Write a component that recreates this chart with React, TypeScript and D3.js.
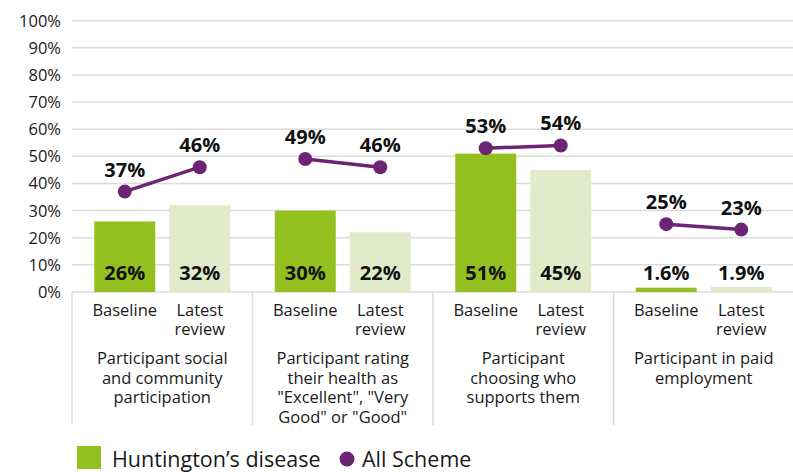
import React from "react";
import * as d3 from "d3";

const groups = [
  ["Participant social", "and community", "participation"],
  ["Participant rating", "their health as", "\"Excellent\", \"Very", "Good\" or \"Good\""],
  ["Participant", "choosing who", "supports them"],
  ["Participant in paid", "employment"],
];
const periods = ["Baseline", "Latest review"];
const periodLines = [["Baseline"], ["Latest", "review"]];
const hdValues = [
  [26, 32],
  [30, 22],
  [51, 45],
  [1.6, 1.9],
];
const hdLabels = [
  ["26%", "32%"],
  ["30%", "22%"],
  ["51%", "45%"],
  ["1.6%", "1.9%"],
];
const schemeValues = [
  [37, 46],
  [49, 46],
  [53, 54],
  [25, 23],
];
const yTicks = [0, 10, 20, 30, 40, 50, 60, 70, 80, 90, 100];

const W = 793;
const H = 472;
const FONT = "'Open Sans', Lato, sans-serif";
const GREEN = "#93c01f";
const LIGHT = "#e1ebc9";
const PURPLE = "#6c2475";
const GRID = "#dcdcdc";
const INK = "#1a1a1a";

export default function App() {
  const left = 72;
  const right = 794;
  const top = 20.7;
  const bottom = 292;
  const y = d3.scaleLinear().domain([0, 100]).range([bottom, top]);
  const x0 = d3.scaleBand<number>().domain(d3.range(groups.length)).range([left, right]).padding(0);
  const x1 = d3
    .scaleBand<number>()
    .domain(d3.range(periods.length))
    .range([0, x0.bandwidth()])
    .paddingInner(0.187)
    .paddingOuter(0.297);
  const bw = x1.bandwidth();
  const line = d3
    .line<[number, number]>()
    .x((d) => d[0])
    .y((d) => d[1]);

  return (
    <svg
      width={W}
      height={H}
      style={{ position: "absolute", left: 0, top: 0, fontFamily: FONT }}
    >
      <rect width={W} height={H} fill="#fff" />
      {yTicks.map((t) => (
        <g key={t}>
          <line x1={left} x2={W} y1={y(t)} y2={y(t)} stroke={GRID} strokeWidth={1.5} />
          <text x={61} y={y(t)} dy="0.36em" textAnchor="end" fontSize={16.5} fill={INK}>
            {t}%
          </text>
        </g>
      ))}
      {groups.map((_, gi) => (
        <line
          key={gi}
          x1={x0(gi)!}
          x2={x0(gi)!}
          y1={bottom}
          y2={425}
          stroke={GRID}
          strokeWidth={1.5}
        />
      ))}
      {groups.map((_, gi) =>
        periods.map((_, pi) => {
          const bx = x0(gi)! + x1(pi)!;
          const v = hdValues[gi][pi];
          return (
            <g key={`${gi}-${pi}`}>
              <rect
                x={bx}
                y={y(v)}
                width={bw}
                height={y(0) - y(v)}
                fill={pi === 0 ? GREEN : LIGHT}
              />
              <text
                x={bx + bw / 2}
                y={280}
                textAnchor="middle"
                fontSize={20}
                fontWeight="bold"
                fill="#111"
              >
                {hdLabels[gi][pi]}
              </text>
            </g>
          );
        })
      )}
      {groups.map((_, gi) => {
        const pts: [number, number][] = periods.map((_, pi) => [
          x0(gi)! + x1(pi)! + bw / 2,
          y(schemeValues[gi][pi]),
        ]);
        return (
          <g key={`s${gi}`}>
            <path d={line(pts)!} stroke={PURPLE} strokeWidth={3.5} fill="none" />
            {pts.map((p, pi) => (
              <g key={pi}>
                <circle cx={p[0]} cy={p[1]} r={7} fill={PURPLE} />
                <text
                  x={p[0]}
                  y={p[1] - 15}
                  textAnchor="middle"
                  fontSize={20}
                  fontWeight="bold"
                  fill="#111"
                >
                  {schemeValues[gi][pi]}%
                </text>
              </g>
            ))}
          </g>
        );
      })}
      {groups.map((_, gi) =>
        periodLines.map((lines, pi) =>
          lines.map((l, li) => (
            <text
              key={`p${gi}-${pi}-${li}`}
              x={x0(gi)! + x1(pi)! + bw / 2}
              y={316 + li * 19}
              textAnchor="middle"
              fontSize={16.5}
              fill={INK}
            >
              {l}
            </text>
          ))
        )
      )}
      {groups.map((lines, gi) => {
        const cx = x0(gi)! + x0.bandwidth() / 2;
        return lines.map((l, li) => (
          <text
            key={`g${gi}-${li}`}
            x={cx}
            y={364 + li * 19.5}
            textAnchor="middle"
            fontSize={16.5}
            fill={INK}
          >
            {l}
          </text>
        ));
      })}
      <rect x={77} y={446} width={24} height={23} fill={GREEN} />
      <text x={112} y={467} fontSize={21.5} fill={INK}>
        Huntington’s disease
      </text>
      <circle cx={347} cy={459} r={7.5} fill={PURPLE} />
      <text x={362} y={467} fontSize={21.5} fill={INK}>
        All Scheme
      </text>
    </svg>
  );
}
